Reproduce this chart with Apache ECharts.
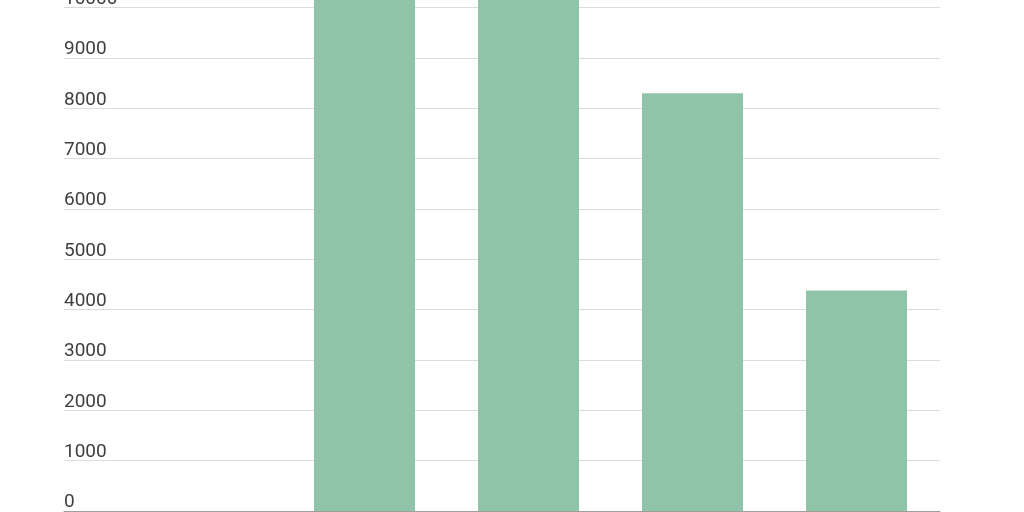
<!DOCTYPE html>
<html>
<head>
<meta charset="utf-8">
<script src="https://cdn.jsdelivr.net/npm/echarts@6/dist/echarts.min.js"></script>
<style>
  html, body { margin: 0; padding: 0; background: #fff; }
  #chart { width: 1024px; height: 512px; }
</style>
</head>
<body>
<div id="chart"></div>
<script>
// categories (no labels visible in the reference)
var categories = ['A', 'B', 'C', 'D', 'E'];
// bar values; first slot is empty, B and C run past the top of the picture
var values = [null, 11600, 11200, 8300, 4380];
// y axis range
var yMin = 0;
var yMax = 12000;
var yStep = 1000;

var chart = echarts.init(document.getElementById('chart'));

var gridTop = -93;
var gridBottom = 1;

chart.setOption({
    animation: false,
    backgroundColor: '#fff',
    grid: [
        // grid for the value axis and its split lines
        { left: 64, right: 84, top: gridTop, bottom: gridBottom, containLabel: false, outerBoundsMode: 'none' },
        // grid for the bars
        { left: 118.5, right: 85.5, top: gridTop, bottom: gridBottom, containLabel: false, outerBoundsMode: 'none' }
    ],
    xAxis: [
        {
            type: 'category',
            gridIndex: 0,
            data: [''],
            axisLine: { show: true, lineStyle: { color: '#9e9e9e', width: 1 } },
            axisTick: { show: false },
            axisLabel: { show: false }
        },
        {
            type: 'category',
            gridIndex: 1,
            data: categories,
            axisLine: { show: false },
            axisTick: { show: false },
            axisLabel: { show: false }
        }
    ],
    yAxis: [
        {
            type: 'value',
            gridIndex: 0,
            min: yMin,
            max: yMax,
            interval: yStep,
            axisLine: { show: false },
            axisTick: { show: false },
            splitLine: { show: true, lineStyle: { color: '#dcdcdc', width: 1 } },
            axisLabel: {
                inside: true,
                margin: 0,
                align: 'left',
                verticalAlign: 'bottom',
                padding: [0, 0, -1, 0],
                fontFamily: 'Roboto',
                fontSize: 19,
                color: '#3f3f3f',
                formatter: function (v) { return String(v); }
            }
        },
        {
            type: 'value',
            gridIndex: 1,
            min: yMin,
            max: yMax,
            interval: yStep,
            show: false,
            splitLine: { show: false }
        }
    ],
    series: [
        {
            type: 'bar',
            xAxisIndex: 1,
            yAxisIndex: 1,
            data: values,
            barWidth: 101,
            itemStyle: { color: '#8fc4a8' }
        }
    ]
});
</script>
</body>
</html>
